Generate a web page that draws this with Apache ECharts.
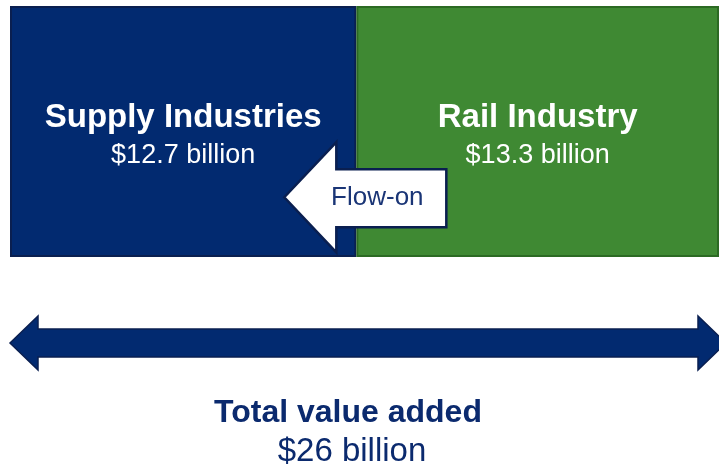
<!DOCTYPE html>
<html>
<head>
<meta charset="utf-8">
<script src="https://cdn.jsdelivr.net/npm/echarts@6/dist/echarts.min.js"></script>
<style>
  html, body { margin: 0; padding: 0; background: #fff; }
  #chart { width: 719px; height: 469px; }
</style>
</head>
<body>
<div id="chart"></div>
<script>
// value added by sector ($ billion)
var sectors = ['Supply Industries', 'Rail Industry'];
var valueAdded = [12.7, 13.3];
var sectorColors = ['#022a70', '#3f8933'];
var sectorBorders = ['#0a1f50', '#2c6a23'];
var flowLabel = 'Flow-on';
var totalLabel = 'Total value added';
var total = valueAdded[0] + valueAdded[1];

var navy = '#0b2a6e';
var chart = echarts.init(document.getElementById('chart'));

function money(v) {
    return '$' + (Math.round(v * 10) / 10) + ' billion';
}

var barSeries = [];
for (var i = 0; i < sectors.length; i++) {
    barSeries.push({
        name: sectors[i],
        type: 'bar',
        stack: 'total',
        xAxisIndex: 0,
        yAxisIndex: 0,
        barWidth: '100%',
        silent: true,
        itemStyle: { color: sectorColors[i], borderColor: sectorBorders[i], borderWidth: 2 },
        label: {
            show: true,
            position: 'inside',
            offset: [0, 5],
            formatter: '{n|' + sectors[i] + '}\n{v|' + money(valueAdded[i]) + '}',
            rich: {
                n: { fontFamily: 'Liberation Sans', fontWeight: 'bold', fontSize: 33, color: '#fff', lineHeight: 38 },
                v: { fontFamily: 'Liberation Sans', fontSize: 27, color: '#fff', lineHeight: 38 }
            }
        },
        data: [valueAdded[i]]
    });
}

// flow-on arrow pointing from the rail block into supply industries
var flowSeries = {
    type: 'custom',
    xAxisIndex: 0,
    yAxisIndex: 0,
    silent: true,
    z: 5,
    data: [[valueAdded[0], 0]],
    renderItem: function (params, api) {
        var cs = params.coordSys;
        var bx = api.coord([api.value(0), 0])[0] - 3;
        var cy = cs.y + cs.height * 0.762;
        return {
            type: 'group',
            children: [{
                type: 'polygon',
                shape: { points: [
                    [bx - 69, cy], [bx - 17, cy - 55], [bx - 17, cy - 28],
                    [bx + 93, cy - 28], [bx + 93, cy + 30], [bx - 17, cy + 30],
                    [bx - 17, cy + 55]
                ] },
                style: { fill: '#fff', stroke: '#0a1f50', lineWidth: 2.5 }
            }, {
                type: 'text',
                x: bx + 24, y: cy + 1,
                style: {
                    text: flowLabel, fill: '#1a3576', fontSize: 26,
                    fontFamily: 'Liberation Sans', align: 'center', verticalAlign: 'middle'
                }
            }]
        };
    }
};

// double-headed arrow spanning the total
var totalSeries = {
    type: 'custom',
    xAxisIndex: 1,
    yAxisIndex: 1,
    silent: true,
    data: [[0, total]],
    renderItem: function (params, api) {
        var a = api.coord([api.value(0), 0]);
        var b = api.coord([api.value(1), 0]);
        var y = a[1], h = 28, s = 14, w = 27;
        return {
            type: 'group',
            children: [{
                type: 'polygon',
                shape: { points: [
                    [a[0], y], [a[0] + h, y - w], [a[0] + h, y - s],
                    [b[0] - h, y - s], [b[0] - h, y - w], [b[0], y],
                    [b[0] - h, y + w], [b[0] - h, y + s], [a[0] + h, y + s],
                    [a[0] + h, y + w]
                ] },
                style: { fill: '#022a70', stroke: '#0a1f50', lineWidth: 1.5 }
            }, {
                type: 'text',
                x: 348, y: y + 70,
                style: {
                    text: totalLabel, fill: navy, fontSize: 32, fontWeight: 'bold',
                    fontFamily: 'Liberation Sans', align: 'center', verticalAlign: 'middle'
                }
            }, {
                type: 'text',
                x: 352, y: y + 109,
                style: {
                    text: '$' + Math.round(total) + ' billion', fill: navy, fontSize: 33,
                    fontFamily: 'Liberation Sans', align: 'center', verticalAlign: 'middle'
                }
            }]
        };
    }
};

var option = {
    animation: false,
    backgroundColor: '#fff',
    grid: [
        { left: 10, right: 0, top: 6, height: 251, outerBoundsMode: 'none' },
        { left: 10, right: -7, top: 316, height: 54, outerBoundsMode: 'none' }
    ],
    xAxis: [
        { type: 'value', gridIndex: 0, min: 0, max: total, show: false },
        { type: 'value', gridIndex: 1, min: 0, max: total, show: false }
    ],
    yAxis: [
        { type: 'category', gridIndex: 0, data: ['value added'], show: false },
        { type: 'value', gridIndex: 1, min: -1, max: 1, show: false }
    ],
    series: barSeries.concat([flowSeries, totalSeries])
};

chart.setOption(option);
</script>
</body>
</html>
